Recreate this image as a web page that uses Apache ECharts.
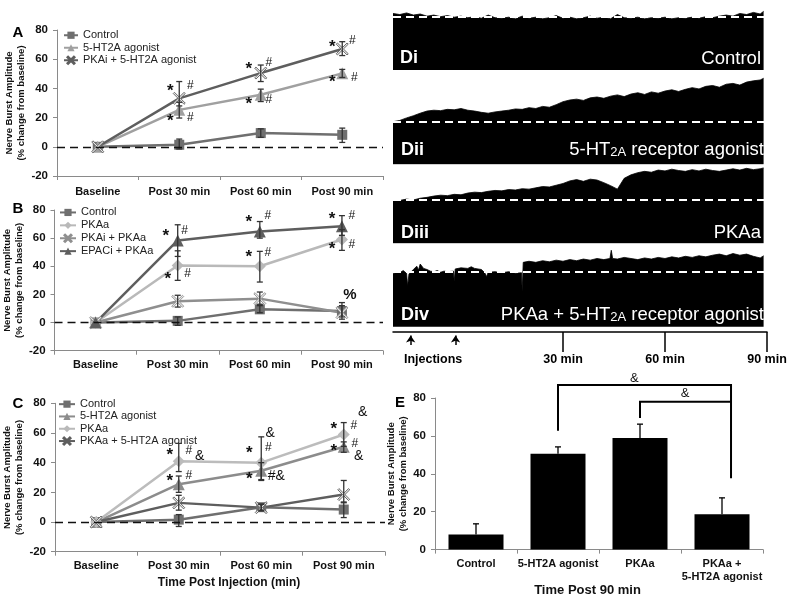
<!DOCTYPE html>
<html><head><meta charset="utf-8">
<script src="https://cdn.jsdelivr.net/npm/echarts@6/dist/echarts.min.js"></script>
<style>html,body{margin:0;padding:0;background:#fff}#c{width:794px;height:598px}</style>
</head><body><div id="c"></div>
<script>
const FONT = '"Liberation Sans", Arial, Helvetica, sans-serif';
const cats = ['Baseline', 'Post 30 min', 'Post 60 min', 'Post 90 min'];
const catsE = ['Control', '5-HT2A agonist', 'PKAa', 'PKAa +\n5-HT2A agonist'];
const yAxisName = 'Nerve Burst Amplitude\n(% change from baseline)';

// ---- Panel A ----
const aNames = ['Control', '5-HT2A agonist', 'PKAi + 5-HT2A agonist'];
const aControl = [0, 1.4, 9.4, 8.2];
const aAgonist = [0, 25.3, 35.6, 50.3];
const aPKAi = [0, 33.2, 50.5, 67.0];
const aControlErr = [[1, -1.5, 5.3], [2, 6.5, 12.3], [3, 3.0, 12.8]];
const aAgonistErr = [[1, 19.7, 30.5], [2, 31.0, 39.5], [3, 47.5, 53.0]];
const aPKAiErr = [[1, 28.0, 44.7], [2, 44.7, 56.0], [3, 62.5, 72.0]];
const aMarks = [[1, 41, '*', -9], [1, 42, '#', 11], [1, 20, '*', -9], [1, 20, '#', 11],
  [2, 56, '*', -12], [2, 57.5, '#', 8], [2, 31.5, '*', -12], [2, 32, '#', 8],
  [3, 71, '*', -10], [3, 73, '#', 10], [3, 47, '*', -10], [3, 47, '#', 12]];

// ---- Panel B ----
const bNames = ['Control', 'PKAa', 'PKAi + PKAa', 'EPACi + PKAa'];
const bControl = [0, 1.2, 9.4, 8.2];
const bPKAa = [0, 40.6, 40.0, 59.0];
const bPKAiPKAa = [0, 15.1, 17.0, 7.0];
const bEPACi = [0, 58.4, 64.8, 68.5];
const bControlErr = [[1, -2, 4], [2, 7, 12], [3, 4, 12]];
const bPKAaErr = [[1, 30, 51], [2, 28.8, 50.6], [3, 51.3, 66]];
const bPKAiErr = [[1, 11, 19.4], [2, 13, 21.7], [3, 2.4, 14.2]];
const bEPACiErr = [[1, 47, 69.5], [2, 60, 71.8], [3, 62, 76]];
const bMarks = [[1, 64, '*', -12], [1, 65.5, '#', 7], [1, 33.5, '*', -10], [1, 35, '#', 10],
  [2, 74, '*', -11], [2, 76, '#', 8], [2, 49, '*', -11], [2, 50, '#', 8],
  [3, 76, '*', -10], [3, 76, '#', 10], [3, 55, '*', -10], [3, 55, '#', 10], [3, 19.4, '%', 8]];

// ---- Panel C ----
const cNames = ['Control', '5-HT2A agonist', 'PKAa', 'PKAa + 5-HT2A agonist'];
const cControl = [0, 1.6, 10.0, 8.4];
const cAgonist = [0, 25.5, 34.5, 50.7];
const cPKAa = [0, 41.0, 40.0, 59.0];
const cCombo = [0, 12.9, 9.7, 18.5];
const cControlErr = [[1, -3, 5], [2, 8, 12], [3, 3, 13.5]];
const cAgonistErr = [[1, 20, 31], [2, 28.6, 40], [3, 47, 54]];
const cPKAaErr = [[1, 34, 53], [2, 28, 57.4], [3, 51, 67]];
const cComboErr = [[1, 8, 18], [2, 7.5, 12], [3, 13, 28]];
const cMarks = [[1, 47.8, '*', -9], [1, 48.4, '#', 10], [1, 44.6, '&', 21], [1, 30, '*', -9], [1, 31, '#', 10],
  [2, 49, '*', -12], [2, 50, '#', 7], [2, 60, '&', 9], [2, 31.5, '*', -12], [2, 31, '#&', 15],
  [3, 73.8, '&', 19], [3, 65, '*', -10], [3, 65, '#', 10], [3, 50.5, '*', -10], [3, 53, '#', 11], [3, 44.6, '&', 15]];

// ---- Panel E ----
const eValues = [8.0, 50.6, 58.9, 18.7];
const eErrTop = [13.6, 54.2, 66.2, 27.3];
// [leftIdx, leftBottom, rightIdx, rightFrac, rightBottom, top]
const eBrackets = [[1, 62.7, 3, 0.11, 37.6, 86.8], [2, 69.4, 3, 0.11, 78.0, 78.0]];
// [idx, frac, value, text]
const eBracketMarks = [[2, -0.07, 90.5, '&'], [2, 0.55, 82.6, '&']];

// ---- Panel D traces (% of baseline burst amplitude, minutes) ----
const traceMinutes = [-20, -18, -16, -14, -12, -10, -8, -6, -4, -2, 0, 2, 4, 6, 8, 10, 12, 14, 16, 18,
  20, 22, 24, 26, 28, 30, 32, 34, 36, 38, 40, 42, 44, 46, 48, 50, 52, 54, 56, 58,
  60, 62, 64, 66, 68, 70, 72, 74, 76, 78, 80, 82, 84, 86, 88, 89];
const traceDi = [106, 104, 107, 103, 105, 101, 103, 100, 102, 99, 101, 98, 100, 97, 103, 98, 97, 99, 96, 101,
  97, 99, 96, 98, 102, 97, 99, 96, 98, 101, 97, 99, 96, 104, 98, 97, 99, 96, 98, 97,
  99, 96, 98, 97, 99, 97, 100, 98, 101, 103, 101, 106, 104, 108, 105, 110];
const traceDii = [100, 103, 109, 114, 120, 125, 127, 126, 129, 128, 131, 127, 125, 122, 120, 123, 125, 127, 130, 129,
  133, 131, 136, 134, 140, 147, 151, 153, 150, 156, 158, 155, 160, 163, 159, 165, 168, 164, 170, 167,
  172, 175, 171, 176, 180, 177, 183, 185, 181, 188, 190, 186, 193, 196, 198, 202];
const traceDiii = [101, 99, 102, 100, 104, 106, 109, 111, 110, 113, 112, 116, 118, 117, 120, 122, 121, 124, 123, 126,
  125, 128, 131, 130, 134, 138, 144, 147, 143, 148, 146, 140, 133, 125, 150, 158, 163, 166, 164, 169,
  167, 171, 168, 166, 170, 167, 171, 168, 166, 169, 172, 169, 173, 170, 172, 174];
const traceDiv = [[-20, 96], [-19, 100], [-18, 98], [-17, 102], [-16, 97], [-15.7, 74], [-15.3, 96], [-14, 104],
  [-13, 110], [-12.5, 103], [-12, 114], [-11, 106], [-10, 104], [-9, 101], [-8, 100], [-7, 102], [-6, 99],
  [-5, 101], [-4, 100], [-2.2, 101], [-2, 82], [-1.7, 105], [0, 107], [2, 106], [3, 109], [4, 106], [6, 104],
  [7, 98], [7.5, 91], [8, 99], [10, 100], [12, 98], [14, 100], [16, 97], [17.8, 98], [18, 64], [18.3, 117],
  [20, 119], [22, 117], [24, 120], [26, 118], [28, 121], [30, 119], [32, 122], [34, 120], [36, 123], [38, 121],
  [40, 124], [42, 122], [43.8, 124], [44.2, 139], [44.6, 124], [46, 123], [48, 126], [50, 124], [52, 122],
  [54, 125], [56, 123], [58, 126], [60, 124], [62, 127], [64, 125], [66, 128], [68, 126], [70, 129], [72, 127],
  [74, 130], [76, 132], [78, 129], [80, 133], [82, 130], [84, 132], [86, 128], [88, 125], [89, 129]];
const traceBaseline = 100;
const timeTicks = [30, 60, 90];
const injections = [-14.8, -1.6];

// ---------------- helpers ----------------
const X_PATH = 'path://M1,0L5,4L9,0L10,1L6,5L10,9L9,10L5,6L1,10L0,9L4,5L0,1Z';
const AX = '#8a8a8a';

function lineSeries(name, data, gi, color, symbol, size, zero) {
  const s = {
    type: 'line', name, data, xAxisIndex: gi, yAxisIndex: gi, z: 3,
    symbol, symbolSize: size, showAllSymbol: true,
    lineStyle: { color, width: 2.5 },
    itemStyle: symbol === X_PATH ? { color: '#e6e6e6', borderColor: color, borderWidth: 0.9 } : { color },
    emphasis: { disabled: true }, animation: false
  };
  if (zero) {
    s.markLine = { silent: true, symbol: 'none', label: { show: false }, animation: false,
      lineStyle: { color: '#111', type: [8, 5], width: 1.3 }, data: [{ yAxis: 0 }] };
  }
  return s;
}
function errSeries(data, gi, color) {
  return {
    type: 'custom', xAxisIndex: gi, yAxisIndex: gi, data, z: 4, silent: true, animation: false,
    renderItem(params, api) {
      const x = api.value(0);
      const p1 = api.coord([x, api.value(1)]), p2 = api.coord([x, api.value(2)]);
      const w = 3, st = { stroke: color, lineWidth: 1.3 };
      return { type: 'group', children: [
        { type: 'line', shape: { x1: p1[0], y1: p1[1], x2: p2[0], y2: p2[1] }, style: st },
        { type: 'line', shape: { x1: p1[0] - w, y1: p1[1], x2: p1[0] + w, y2: p1[1] }, style: st },
        { type: 'line', shape: { x1: p2[0] - w, y1: p2[1], x2: p2[0] + w, y2: p2[1] }, style: st }
      ] };
    }
  };
}
function markSeries(marks, gi) {
  return {
    type: 'custom', xAxisIndex: gi, yAxisIndex: gi, z: 6, silent: true, animation: false,
    data: marks.map(m => [m[0], m[1]]),
    renderItem(params, api) {
      const m = marks[params.dataIndex];
      const p = api.coord([m[0], m[1]]);
      const t = m[2];
      const fs = t === '*' ? 17 : t === '#' ? 12 : t === '%' ? 15 : 14;
      const fw = (t === '*' || t === '%') ? 'bold' : 'normal';
      return { type: 'text', x: p[0] + m[3], y: p[1] + (t === '*' ? 4 : 0),
        style: { text: t, fontSize: fs, fontWeight: fw, fontFamily: FONT, fill: '#111', align: 'center', verticalAlign: 'middle' } };
    }
  };
}
function lineYAxis(gi, gap) {
  return { type: 'value', gridIndex: gi, min: -20, max: 80, interval: 20,
    axisLine: { show: true, lineStyle: { color: AX } }, axisTick: { show: true, length: 4, lineStyle: { color: AX } },
    splitLine: { show: false },
    axisLabel: { color: '#111', fontWeight: 'bold', fontSize: 11.5, fontFamily: FONT, margin: 9 },
    name: yAxisName, nameLocation: 'middle', nameGap: gap, nameRotate: 90,
    nameTextStyle: { fontFamily: FONT, fontWeight: 'bold', fontSize: 9.5, lineHeight: 12, color: '#111' } };
}
function catXAxis(gi, data, margin) {
  return { type: 'category', gridIndex: gi, data, boundaryGap: true,
    axisLine: { onZero: false, lineStyle: { color: AX } },
    axisTick: { show: true, length: 4, lineStyle: { color: AX } },
    axisLabel: { color: '#111', fontWeight: 'bold', fontSize: 11, fontFamily: FONT, margin, interval: 0, lineHeight: 13 } };
}
function traceSeries(data, gi) {
  return { type: 'line', data, xAxisIndex: gi, yAxisIndex: gi, showSymbol: false, symbol: 'none', silent: true,
    animation: false, lineStyle: { color: '#000', width: 0.8 }, areaStyle: { color: '#000', opacity: 1 },
    markLine: { silent: true, symbol: 'none', label: { show: false }, animation: false,
      lineStyle: { color: '#fff', type: [8, 5], width: 2 }, data: [{ yAxis: traceBaseline }] } };
}
function hiddenX(gi) { return { type: 'value', gridIndex: gi, min: -20, max: 90, show: false }; }
function hiddenY(gi, max) { return { type: 'value', gridIndex: gi, min: 0, max, show: false }; }
function legendCfg(data, left, top, lh, iw) {
  return { data, orient: 'vertical', left, top, padding: 0, itemWidth: iw, itemHeight: 9, itemGap: 0,
    selectedMode: false, textStyle: { fontSize: 11, lineHeight: lh, color: '#222', fontFamily: FONT } };
}

const option = {
  animation: false,
  grid: [
    { left: 57, top: 30, width: 326, height: 146 },       // 0 A
    { left: 53, top: 210, width: 330, height: 140.7 },    // 1 B
    { left: 55, top: 403.3, width: 330, height: 148.4 },  // 2 C
    { left: 435, top: 398, width: 328, height: 153 },     // 3 E
    { left: 393, top: 6, width: 374, height: 64 },        // 4 Di
    { left: 393, top: 70.6, width: 374, height: 93.7 },   // 5 Dii
    { left: 393, top: 165.3, width: 374, height: 78 },    // 6 Diii
    { left: 393, top: 249.7, width: 374, height: 77 },    // 7 Div
    { left: 393, top: 332, width: 374, height: 30 }       // 8 timeline
  ],
  xAxis: [
    catXAxis(0, cats, 9), catXAxis(1, cats, 8),
    Object.assign(catXAxis(2, cats, 8), { name: 'Time Post Injection (min)', nameLocation: 'middle', nameGap: 25,
      nameTextStyle: { fontFamily: FONT, fontWeight: 'bold', fontSize: 12, color: '#111', padding: [0, 0, 0, 18] } }),
    Object.assign(catXAxis(3, catsE, 7.5), { name: 'Time Post 90 min', nameLocation: 'middle', nameGap: 28,
      nameTextStyle: { fontFamily: FONT, fontWeight: 'bold', fontSize: 13, color: '#111', padding: [0, 23, 0, 0] } }),
    hiddenX(4), hiddenX(5), hiddenX(6), hiddenX(7),
    { type: 'value', gridIndex: 8, min: -20, max: 90, position: 'top',
      axisLine: { show: true, onZero: false, lineStyle: { color: '#000', width: 1.5 } },
      axisTick: { show: true, inside: true, length: 20, customValues: timeTicks, lineStyle: { color: '#000', width: 1.5 } },
      axisLabel: { show: true, inside: true, margin: 21, customValues: timeTicks, formatter: '{value} min',
        fontWeight: 'bold', fontSize: 12.5, color: '#000', fontFamily: FONT },
      splitLine: { show: false } }
  ],
  yAxis: [
    lineYAxis(0, 26), lineYAxis(1, 23), lineYAxis(2, 25),
    Object.assign(lineYAxis(3, 22), { min: 0, max: 80, interval: 20 }),
    hiddenY(4, 120), hiddenY(5, 220), hiddenY(6, 180), hiddenY(7, 140),
    { type: 'value', gridIndex: 8, min: 0, max: 30, inverse: true, show: false }
  ],
  legend: [
    legendCfg(aNames, 63, 29, 12.5, 14),
    legendCfg(bNames, 59, 206, 12.9, 16),
    legendCfg([{ name: 'Control' }, { name: '5-HT2A agonist', itemStyle: { color: '#8c8c8c' }, lineStyle: { color: '#8c8c8c' } },
      { name: 'PKAa' }, { name: 'PKAa + 5-HT2A agonist' }], 58, 398, 12.3, 16)
  ],
  series: [
    // A
    lineSeries('Control', aControl, 0, '#6f6f6f', 'rect', 10, true),
    lineSeries('5-HT2A agonist', aAgonist, 0, '#a0a0a0', 'triangle', 12),
    lineSeries('PKAi + 5-HT2A agonist', aPKAi, 0, '#5e5e5e', X_PATH, 12),
    errSeries(aControlErr, 0, '#333'), errSeries(aAgonistErr, 0, '#333'), errSeries(aPKAiErr, 0, '#333'),
    markSeries(aMarks, 0),
    // B
    lineSeries('Control', bControl, 1, '#6f6f6f', 'rect', 10, true),
    lineSeries('PKAa', bPKAa, 1, '#b9b9b9', 'diamond', 12),
    lineSeries('PKAi + PKAa', bPKAiPKAa, 1, '#8f8f8f', X_PATH, 12),
    lineSeries('EPACi + PKAa', bEPACi, 1, '#5e5e5e', 'triangle', 12),
    errSeries(bControlErr, 1, '#333'), errSeries(bPKAaErr, 1, '#333'), errSeries(bPKAiErr, 1, '#333'), errSeries(bEPACiErr, 1, '#333'),
    markSeries(bMarks, 1),
    // C
    lineSeries('Control', cControl, 2, '#6f6f6f', 'rect', 10, true),
    lineSeries('5-HT2A agonist', cAgonist, 2, '#8c8c8c', 'triangle', 12),
    lineSeries('PKAa', cPKAa, 2, '#bcbcbc', 'diamond', 12),
    lineSeries('PKAa + 5-HT2A agonist', cCombo, 2, '#5e5e5e', X_PATH, 12),
    errSeries(cControlErr, 2, '#333'), errSeries(cAgonistErr, 2, '#333'), errSeries(cPKAaErr, 2, '#333'), errSeries(cComboErr, 2, '#333'),
    markSeries(cMarks, 2),
    // E
    { type: 'bar', data: eValues, xAxisIndex: 3, yAxisIndex: 3, barWidth: 55, itemStyle: { color: '#000' }, silent: true, animation: false },
    { type: 'custom', xAxisIndex: 3, yAxisIndex: 3, z: 4, silent: true, animation: false,
      data: eValues.map((v, i) => [i, v, eErrTop[i]]),
      renderItem(params, api) {
        const x = api.value(0);
        const p1 = api.coord([x, api.value(1)]), p2 = api.coord([x, api.value(2)]);
        const st = { stroke: '#000', lineWidth: 1.3 };
        return { type: 'group', children: [
          { type: 'line', shape: { x1: p1[0], y1: p1[1], x2: p2[0], y2: p2[1] }, style: st },
          { type: 'line', shape: { x1: p2[0] - 3, y1: p2[1], x2: p2[0] + 3, y2: p2[1] }, style: st }
        ] };
      } },
    { type: 'custom', xAxisIndex: 3, yAxisIndex: 3, z: 5, silent: true, animation: false, clip: false,
      data: eBrackets.map(b => [b[0], b[1]]),
      renderItem(params, api) {
        const b = eBrackets[params.dataIndex];
        const band = api.size([1, 0])[0];
        const l0 = api.coord([b[0], b[1]]), lt = api.coord([b[0], b[5]]);
        const r = api.coord([b[2], b[4]]);
        const rx = r[0] + b[3] * band;
        return { type: 'polyline', shape: { points: [[l0[0], l0[1]], [lt[0], lt[1]], [rx, lt[1]], [rx, r[1]]] },
          style: { stroke: '#000', lineWidth: 2, fill: null } };
      } },
    { type: 'custom', xAxisIndex: 3, yAxisIndex: 3, z: 6, silent: true, animation: false, clip: false,
      data: eBracketMarks.map(m => [m[0], m[2]]),
      renderItem(params, api) {
        const m = eBracketMarks[params.dataIndex];
        const band = api.size([1, 0])[0];
        const p = api.coord([m[0], m[2]]);
        return { type: 'text', x: p[0] + m[1] * band, y: p[1],
          style: { text: m[3], fontSize: 13, fontFamily: FONT, fill: '#111', align: 'center', verticalAlign: 'middle' } };
      } },
    // D traces
    traceSeries(traceMinutes.map((m, i) => [m, traceDi[i]]), 4),
    traceSeries(traceMinutes.map((m, i) => [m, traceDii[i]]), 5),
    traceSeries(traceMinutes.map((m, i) => [m, traceDiii[i]]), 6),
    traceSeries(traceDiv, 7),
    // timeline arrows
    { type: 'lines', coordinateSystem: 'cartesian2d', xAxisIndex: 8, yAxisIndex: 8, silent: true, animation: false,
      symbol: ['none', 'arrow'], symbolSize: 7, lineStyle: { color: '#000', width: 1.5, opacity: 1 },
      data: injections.map(t => ({ coords: [[t, 13], [t, 3.5]] })) },
    { type: 'custom', xAxisIndex: 8, yAxisIndex: 8, silent: true, animation: false, clip: false,
      data: [[(injections[0] + injections[1]) / 2, 28]],
      renderItem(params, api) {
        const p = api.coord([api.value(0), api.value(1)]);
        return { type: 'text', x: p[0], y: p[1],
          style: { text: 'Injections', fontSize: 12.5, fontWeight: 'bold', fontFamily: FONT, fill: '#000', align: 'center', verticalAlign: 'middle' } };
      } }
  ],
  graphic: [
    { type: 'text', x: 18, y: 33, style: { text: 'A', fontSize: 15, fontWeight: 'bold', fontFamily: FONT, fill: '#000', align: 'center', verticalAlign: 'middle' } },
    { type: 'text', x: 18, y: 208.5, style: { text: 'B', fontSize: 15, fontWeight: 'bold', fontFamily: FONT, fill: '#000', align: 'center', verticalAlign: 'middle' } },
    { type: 'text', x: 18, y: 403.5, style: { text: 'C', fontSize: 15, fontWeight: 'bold', fontFamily: FONT, fill: '#000', align: 'center', verticalAlign: 'middle' } },
    { type: 'text', x: 400, y: 403, style: { text: 'E', fontSize: 15, fontWeight: 'bold', fontFamily: FONT, fill: '#000', align: 'center', verticalAlign: 'middle' } },
    { type: 'text', x: 400, y: 58.5, z: 100, style: { text: 'Di', fontSize: 18, fontWeight: 'bold', fontFamily: FONT, fill: '#fff', align: 'left', verticalAlign: 'middle' } },
    { type: 'text', x: 761, y: 58.5, z: 100, style: { text: 'Control', fontSize: 18.5, fontFamily: FONT, fill: '#fff', align: 'right', verticalAlign: 'middle' } },
    { type: 'text', x: 401, y: 150, z: 100, style: { text: 'Dii', fontSize: 18, fontWeight: 'bold', fontFamily: FONT, fill: '#fff', align: 'left', verticalAlign: 'middle' } },
    { type: 'text', x: 764, y: 150, z: 100, style: { text: '{a|5-HT}{s|2A}{a| receptor agonist}', fontSize: 18.5, fontFamily: FONT, fill: '#fff', align: 'right', verticalAlign: 'middle',
      rich: { a: { fontSize: 18.5, fontFamily: FONT, fill: '#fff' }, s: { fontSize: 13, fontFamily: FONT, fill: '#fff', verticalAlign: 'bottom', padding: [0, 0, 1, 0] } } } },
    { type: 'text', x: 401, y: 233, z: 100, style: { text: 'Diii', fontSize: 18, fontWeight: 'bold', fontFamily: FONT, fill: '#fff', align: 'left', verticalAlign: 'middle' } },
    { type: 'text', x: 761, y: 233, z: 100, style: { text: 'PKAa', fontSize: 18.5, fontFamily: FONT, fill: '#fff', align: 'right', verticalAlign: 'middle' } },
    { type: 'text', x: 401, y: 315, z: 100, style: { text: 'Div', fontSize: 18, fontWeight: 'bold', fontFamily: FONT, fill: '#fff', align: 'left', verticalAlign: 'middle' } },
    { type: 'text', x: 764, y: 315, z: 100, style: { text: '{a|PKAa + 5-HT}{s|2A}{a| receptor agonist}', fontSize: 18.5, fontFamily: FONT, fill: '#fff', align: 'right', verticalAlign: 'middle',
      rich: { a: { fontSize: 18.5, fontFamily: FONT, fill: '#fff' }, s: { fontSize: 13, fontFamily: FONT, fill: '#fff', verticalAlign: 'bottom', padding: [0, 0, 1, 0] } } } }
  ]
};
const chart = echarts.init(document.getElementById('c'), null, { renderer: 'canvas' });
chart.setOption(option);
</script>
</body></html>
